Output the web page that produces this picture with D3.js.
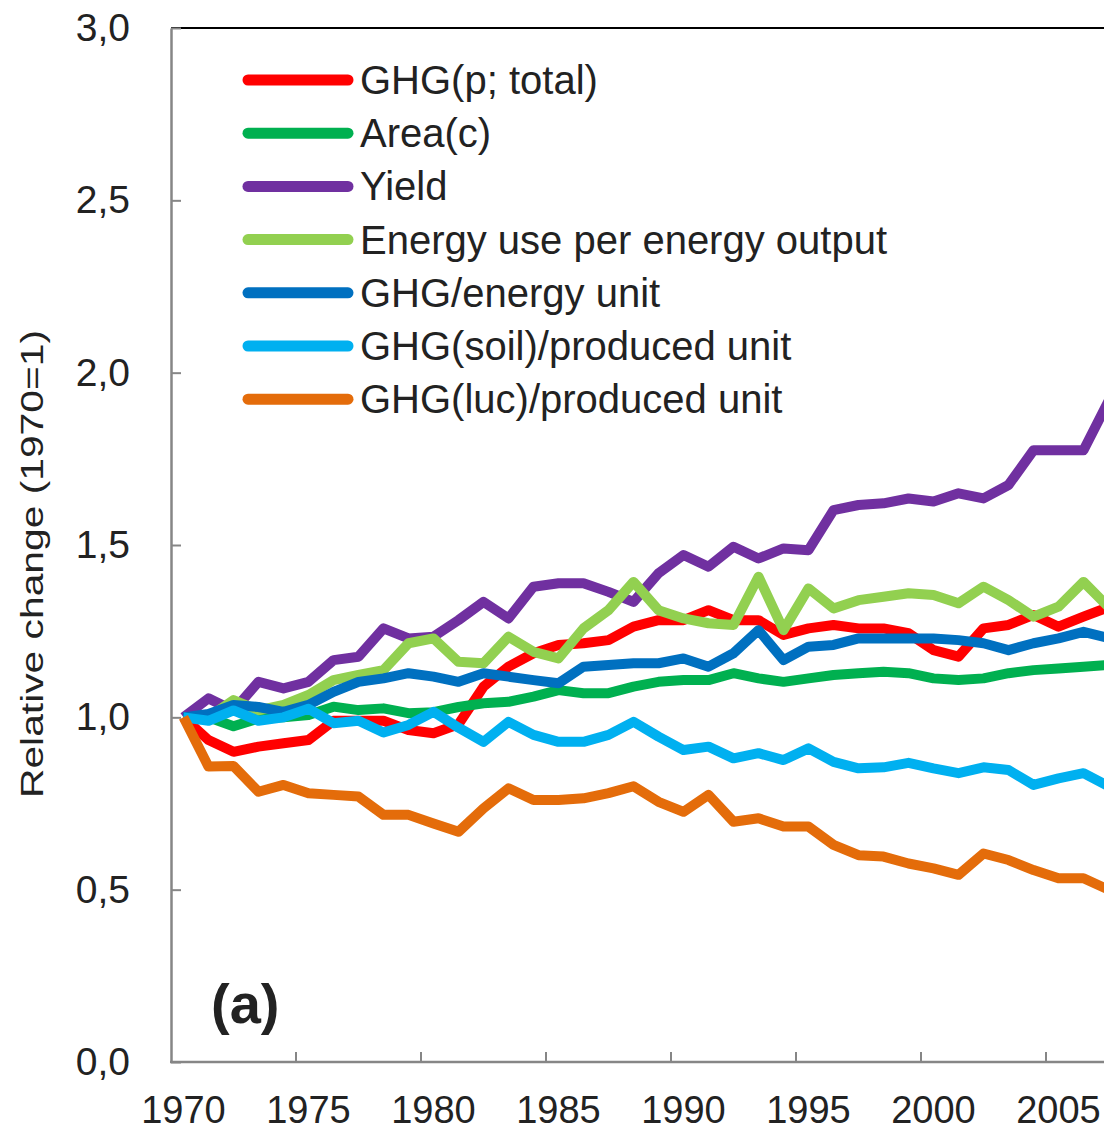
<!DOCTYPE html>
<meta charset="utf-8">
<script src="https://d3js.org/d3.v7.min.js"></script>

<div id="my_dataviz"></div>

<style>
  body { margin: 0; background: #fff; }
  #my_dataviz text { font-family: "Liberation Sans", Arial, sans-serif; fill: #222; }
</style>

<script>
  // years 1970..2007 (the chart is cut at the right edge)
  var years = d3.range(1970, 2008);
  var xTickYears = [1970, 1975, 1980, 1985, 1990, 1995, 2000, 2005];
  var yTicks = [0, 0.5, 1, 1.5, 2, 2.5, 3];

  var seriesNames = ["GHG(p; total)", "Area(c)", "Yield", "Energy use per energy output",
                     "GHG/energy unit", "GHG(soil)/produced unit", "GHG(luc)/produced unit"];
  var seriesColors = ["#ff0000", "#00b050", "#7030a0", "#92d050", "#0070c0", "#00b0f0", "#e46c0a"];

  var ghgTotal = [1.00, 0.934, 0.90, 0.915, 0.925, 0.934, 0.99, 0.99, 0.99, 0.963, 0.954, 0.98,
    1.089, 1.147, 1.186, 1.21, 1.215, 1.224, 1.263, 1.282, 1.282, 1.311, 1.282, 1.282,
    1.239, 1.258, 1.268, 1.258, 1.258, 1.244, 1.195, 1.176, 1.258, 1.268, 1.297, 1.263, 1.292, 1.32];
  var area = [1.0, 1.0, 0.974, 0.997, 1.0, 1.007, 1.031, 1.021, 1.026, 1.012, 1.015, 1.03,
    1.041, 1.045, 1.06, 1.079, 1.07, 1.07, 1.089, 1.103, 1.108, 1.108, 1.128, 1.113,
    1.103, 1.113, 1.123, 1.128, 1.132, 1.128, 1.113, 1.108, 1.113, 1.128, 1.137, 1.142, 1.147, 1.152];
  var yieldVals = [1.0, 1.055, 1.02, 1.103, 1.084, 1.103, 1.166, 1.176, 1.258, 1.229, 1.234, 1.282,
    1.335, 1.287, 1.379, 1.389, 1.389, 1.364, 1.335, 1.418, 1.471, 1.437, 1.495, 1.461,
    1.49, 1.485, 1.601, 1.616, 1.621, 1.635, 1.626, 1.65, 1.635, 1.674, 1.775, 1.775, 1.775, 1.917];
  var energyUse = [1.0, 1.0, 1.05, 1.02, 1.036, 1.065, 1.108, 1.123, 1.137, 1.215, 1.229, 1.161,
    1.157, 1.234, 1.19, 1.171, 1.258, 1.311, 1.393, 1.311, 1.287, 1.273, 1.268, 1.408,
    1.253, 1.374, 1.316, 1.34, 1.35, 1.36, 1.355, 1.331, 1.379, 1.34, 1.292, 1.321, 1.393, 1.32];
  var ghgEnergy = [1.0, 1.01, 1.036, 1.03, 1.016, 1.036, 1.074, 1.103, 1.113, 1.128, 1.118, 1.103,
    1.128, 1.118, 1.108, 1.099, 1.147, 1.152, 1.157, 1.157, 1.171, 1.147, 1.186, 1.253,
    1.166, 1.205, 1.21, 1.229, 1.229, 1.229, 1.229, 1.224, 1.215, 1.195, 1.215, 1.229, 1.248, 1.23];
  var ghgSoil = [1.0, 0.99, 1.02, 0.99, 1.0, 1.025, 0.983, 0.99, 0.956, 0.978, 1.016, 0.97,
    0.929, 0.987, 0.949, 0.929, 0.929, 0.949, 0.987, 0.944, 0.905, 0.915, 0.881, 0.896,
    0.876, 0.91, 0.871, 0.852, 0.855, 0.868, 0.852, 0.838, 0.855, 0.847, 0.804, 0.823, 0.838, 0.80];
  var ghgLuc = [1.0, 0.857, 0.859, 0.784, 0.804, 0.78, 0.775, 0.77, 0.717, 0.717, 0.692, 0.668,
    0.736, 0.794, 0.76, 0.76, 0.765, 0.78, 0.80, 0.755, 0.726, 0.775, 0.697, 0.707,
    0.683, 0.683, 0.63, 0.60, 0.596, 0.576, 0.562, 0.543, 0.605, 0.586, 0.557, 0.533, 0.533, 0.50];

  var seriesValues = [ghgTotal, area, yieldVals, energyUse, ghgEnergy, ghgSoil, ghgLuc];

  var width = 1104, height = 1131;
  var plotLeft = 171, plotTop = 28, plotBottom = 1062;
  var axisGrey = "#868686";

  var svg = d3.select("#my_dataviz")
    .append("svg")
      .attr("width", width)
      .attr("height", height);

  // category axis, 25px per year, points in the middle of each band
  var x = d3.scaleBand()
    .domain(years)
    .range([plotLeft, plotLeft + 25 * years.length]);
  var xc = function(yr) { return x(yr) + x.bandwidth() / 2; };

  var y = d3.scaleLinear()
    .domain([0, 3])
    .range([plotBottom, plotTop]);

  var comma = d3.formatLocale({decimal: ",", thousands: ".", grouping: [3], currency: ["", ""]});

  // top frame line
  svg.append("line")
    .attr("x1", plotLeft).attr("x2", width)
    .attr("y1", y(3)).attr("y2", y(3))
    .attr("stroke", "#000")
    .attr("stroke-width", 2);

  // Lines
  var line = d3.line()
    .x(function(d, i) { return xc(years[i]); })
    .y(function(d) { return y(d); });

  svg.append("g")
    .selectAll("path")
    .data(seriesValues)
    .enter()
    .append("path")
      .attr("fill", "none")
      .attr("stroke", function(d, i) { return seriesColors[i]; })
      .attr("stroke-width", 10)
      .attr("stroke-linejoin", "round")
      .attr("d", line);

  // Y axis
  var yAxis = svg.append("g")
    .attr("transform", "translate(" + plotLeft + ",0)")
    .call(d3.axisLeft(y)
      .tickValues(yTicks)
      .tickSizeInner(-10)
      .tickSizeOuter(0)
      .tickPadding(41)
      .tickFormat(comma.format(".1f")));
  yAxis.select(".domain").attr("stroke", axisGrey).attr("stroke-width", 2.5);
  yAxis.selectAll(".tick line").attr("stroke", axisGrey).attr("stroke-width", 2);
  yAxis.selectAll("text")
    .style("font-size", "39px")
    .style("font-family", "'Liberation Sans', Arial, sans-serif")
    .attr("fill", "#222");

  // X axis (ticks between categories, labels in the middle)
  var xAxis = svg.append("g");
  xAxis.append("line")
    .attr("x1", plotLeft - 1).attr("x2", width)
    .attr("y1", plotBottom).attr("y2", plotBottom)
    .attr("stroke", axisGrey)
    .attr("stroke-width", 2.5);
  xAxis.selectAll(".xtick")
    .data(xTickYears.filter(function(d) { return d > 1970; }))
    .enter()
    .append("line")
      .attr("x1", function(d) { return x(d); })
      .attr("x2", function(d) { return x(d); })
      .attr("y1", plotBottom)
      .attr("y2", plotBottom - 10)
      .attr("stroke", axisGrey)
      .attr("stroke-width", 2);
  xAxis.selectAll(".xlabel")
    .data(xTickYears)
    .enter()
    .append("text")
      .attr("x", function(d) { return xc(d); })
      .attr("y", 1123)
      .attr("text-anchor", "middle")
      .style("font-size", "38px")
      .text(function(d) { return d; });

  // Y axis title
  svg.append("text")
    .attr("transform", "translate(43,564) rotate(-90)")
    .attr("text-anchor", "middle")
    .attr("textLength", 468)
    .attr("lengthAdjust", "spacingAndGlyphs")
    .style("font-size", "31px")
    .text("Relative change (1970=1)");

  // panel letter
  svg.append("text")
    .attr("x", 211)
    .attr("y", 1023)
    .style("font-size", "56px")
    .style("font-weight", "bold")
    .text("(a)");

  // Legend
  var legend = svg.append("g")
    .selectAll("g")
    .data(seriesNames)
    .enter()
    .append("g")
      .attr("transform", function(d, i) { return "translate(0," + (80 + i * 53.2) + ")"; });
  legend.append("line")
    .attr("x1", 248).attr("x2", 348)
    .attr("stroke", function(d, i) { return seriesColors[i]; })
    .attr("stroke-width", 11)
    .attr("stroke-linecap", "round");
  legend.append("text")
    .attr("x", 360)
    .attr("y", 14)
    .style("font-size", "40px")
    .text(function(d) { return d; });
</script>
